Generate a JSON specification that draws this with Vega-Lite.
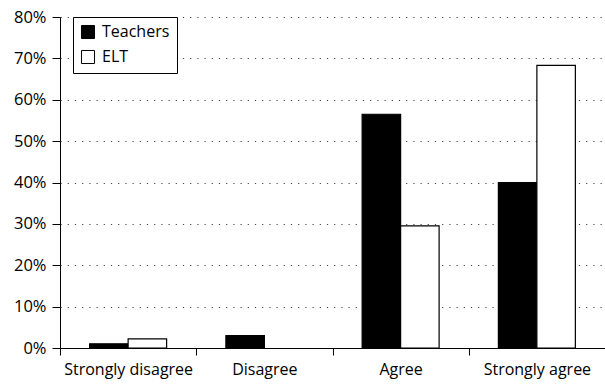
{
  "$schema": "https://vega.github.io/schema/vega-lite/v6.json",
  "autosize": {"type": "none"},
  "padding": {"left": 60, "top": 17, "right": 0, "bottom": 37},
  "width": 545,
  "height": 331,
  "background": "white",
  "config": {
    "view": {"stroke": null},
    "font": "Open Sans"
  },
  "data": {
    "values": [
      {"response": "Strongly disagree", "group": "Teachers", "pct": 1.0},
      {"response": "Strongly disagree", "group": "ELT", "pct": 2.2},
      {"response": "Disagree", "group": "Teachers", "pct": 3.0},
      {"response": "Agree", "group": "Teachers", "pct": 56.5},
      {"response": "Agree", "group": "ELT", "pct": 29.5},
      {"response": "Strongly agree", "group": "Teachers", "pct": 40.0},
      {"response": "Strongly agree", "group": "ELT", "pct": 68.3}
    ]
  },
  "mark": {"type": "bar", "stroke": "black", "strokeWidth": 1.2},
  "encoding": {
    "x": {
      "field": "response",
      "type": "nominal",
      "sort": ["Strongly disagree", "Disagree", "Agree", "Strongly agree"],
      "scale": {"paddingInner": 0, "paddingOuter": 0},
      "axis": {
        "title": null,
        "labelAngle": 0,
        "tickBand": "extent",
        "domainColor": "black",
        "tickColor": "black",
        "tickSize": 7,
        "labelColor": "black",
        "labelFontSize": 16,
        "labelPadding": 6,
        "grid": false
      }
    },
    "xOffset": {
      "field": "group",
      "type": "nominal",
      "sort": ["Teachers", "ELT"],
      "scale": {"domain": ["Teachers", "ELT"], "paddingOuter": 0.77, "paddingInner": 0}
    },
    "y": {
      "field": "pct",
      "type": "quantitative",
      "scale": {"domain": [0, 80]},
      "axis": {
        "title": null,
        "values": [0, 10, 20, 30, 40, 50, 60, 70, 80],
        "labelExpr": "datum.value + '%'",
        "domainColor": "black",
        "tickColor": "black",
        "tickSize": 8,
        "labelColor": "black",
        "labelFontSize": 16.5,
        "labelPadding": 6,
        "grid": true,
        "gridColor": "#444444",
        "gridDash": [1.2, 6],
        "gridWidth": 1.2
      }
    },
    "fill": {
      "field": "group",
      "type": "nominal",
      "sort": ["Teachers", "ELT"],
      "scale": {"domain": ["Teachers", "ELT"], "range": ["black", "white"]},
      "legend": {
        "title": null,
        "orient": "none",
        "legendX": 13,
        "legendY": 0,
        "fillColor": "white",
        "strokeColor": "black",
        "padding": 7,
        "symbolType": "square",
        "symbolSize": 170,
        "symbolStrokeColor": "black",
        "symbolStrokeWidth": 1,
        "labelFontSize": 16,
        "labelColor": "black",
        "labelOffset": 6,
        "rowPadding": 7,
        "labelLimit": 200
      }
    }
  }
}
